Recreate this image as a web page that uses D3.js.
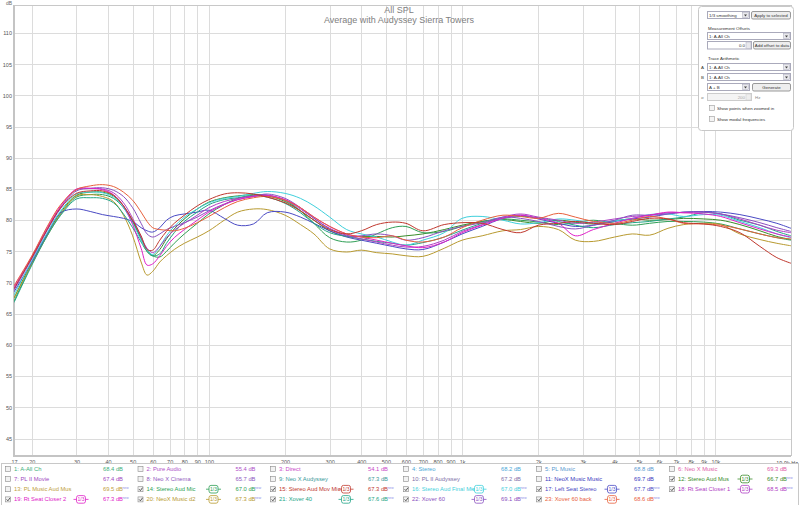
<!DOCTYPE html>
<html><head><meta charset="utf-8">
<script src="https://cdn.jsdelivr.net/npm/d3@7"></script>
<style>
body{margin:0;background:#fff;}
svg{display:block;font-family:"Liberation Sans",Arial,sans-serif;}
</style>
</head><body>
<svg id="c" width="800" height="505"></svg>
<script>
// ---------- DATA ----------
const freqs = [17,20,23,26,30,34,38,42,46,50,54,57,60,64,68,73,80,90,100,115,130,150,170,200,230,260,300,350,400,460,530,600,700,850,1000,1200,1450,1700,2000,2400,2800,3300,4000,4700,5500,6500,7500,9000,10500,12500,15000,17500,19900];

const s12 = [67.5,73.3,77.8,81.3,84.0, 84.5,84.5,83.9,82.3,79.8, 77,75,74.3,75.3,77, 78.6,80.2,81.8,82.9,83.6, 83.9,84.1,83.9,83,81.5, 80,78.3,77.4,77.4,77.4, 77.3,77.5,77.8,78.5,79.2, 79.8,80.1,79.8,79.5,80, 79.7,79.4,79.9,80.2,80, 80.1,80.3,80.2,80,79.3, 78.3,77.4,76.9];
const s14 = [67,73,77.6,81,83.7, 84.1,84.1,83.5,82,79.8, 77.2,75.3,74.3,74.1,75, 76.3,77.8,79.5,81,82.5, 83.5,84,84,83.2,81.5, 79.5,77.2,76.5,76.8,77.8, 78.8,79,78,78.2,79, 79.8,80.2,80,79.7,79.3, 79.6,80,79.5,79.2,79.5, 79.8,79.8,79.7,79.4,78.6, 77.8,77.2,76.8];
const s15 = [69,74,78.5,82,84.3, 84.7,84.7,84,82.3,80, 77.5,75.3,75.2,76.8,78.2, 79.5,80.8,82.3,83.3,84.2, 84.4,84.2,83.7,82.8,81.5, 80,78.5,77.8,78.3,79.3, 79.7,79.5,78.3,79.3,79.6, 79.5,78.5,78,79.2,79.5, 79.8,79.5,79.3,79.8,80.3, 80.2,79.6,79.4,79,78, 75.8,74,73.1];
const s16 = [68,73.5,78,81.5,84.2, 84.5,84.4,83.7,82,79.5, 76.8,75.2,74.5,75.8,77.5, 79,80.5,81.8,82.8,83.5, 83.8,84.3,84.6,84.3,83.5, 82.3,80.5,78.5,77.8,77.3, 76.5,76,76.8,78,80.3, 80.6,80,79.4,79.6,80.2, 80,79.6,79.9,80.3,80.9, 81,80.6,80.9,80.8,79.8, 78.8,77.8,77.2];
const s17 = [68.5,73.3,77.8,81.2,81.8, 81.4,80.9,80.6,80.3,79.8, 78.8,78.3,78.1,78.8,80, 80.7,81,81.3,81.6,80.3, 79.2,79.4,81.2,81.3,80.5, 79.5,78.3,77.3,76.8,76.3, 75.8,75.4,75.3,76.5,77.8, 79,80.3,80.8,80.2,79.5, 79,79.2,79.8,80.2,80.5, 81,81.3,81.4,81.3,80.9, 80.2,79.5,78.7];
const s18 = [69,74,78.6,82.1,84.9, 85.1,85.0,84.4,82.8,80.3, 77.3,75.5,74.8,75.8,77.2, 78.4,79.5,80.8,82,83, 83.5,83.9,84,83.2,81.8, 80.3,78.7,77.6,77,76.5, 76,75.7,75.8,76.8,78.2, 79.3,80.5,81,80.5,80, 79.5,79.7,80.2,80.6,80.8, 81.2,81.2,81.3,81,80.2, 79.2,78.4,78];
const s19 = [69.3,74.2,78.8,82.3,85.0, 85.1,84.9,84.1,82.3,79.3, 75.5,72.8,73,74.3,75.8, 77.2,78.5,80,81.3,82.5, 83.3,83.8,84,83.3,82, 80.5,79,77.8,77.3,76.8, 76.3,75.9,75.6,76.5,78, 79.2,80.3,80.8,80.3,79.5, 77.5,78.5,79.5,80.3,80.8, 81.3,81.2,81,80.6,79.6, 78.6,77.8,77.3];
const s20 = [67.5,73,77.5,81,83.9, 84.1,83.8,83,80.8,77.5, 73.3,71.2,71.8,73.3,74.3, 75.3,76.3,77.3,78.3,80, 81.3,81.8,81.7,80.8,79.3, 77.8,75.4,74.9,75.2,74.8, 74.6,74.3,74.2,75.5,76.8, 77.5,78.3,78.5,79,78.5, 76.8,76.6,77.3,77.8,77.6, 78.7,79.3,79.5,79.3,77.8, 76.9,76.3,75.9];
const s21 = [66.8,72.8,77.5,80.8,83.4, 83.6,83.5,82.8,81,78.8, 76.5,75,74.3,74.6,76.3, 78,79.8,81.3,82.5,83.3, 83.6,83.9,83.7,82.7,81.2, 79.5,78,77.4,77,76.6, 76.3,76,76.4,77.3,78.4, 79.5,80.3,80.6,80.4,79.8, 79.2,78.8,79.3,79.6,79.8, 80.2,80.5,81.2,81,80, 79.2,78.2,77.5];
const s22 = [68.8,73.8,78.4,81.9,84.7, 85.1,85.2,84.8,83.8,82, 79.5,77.8,77.3,77.8,78.5, 79,79.6,80.5,81.5,82.6, 83.3,83.8,84.2,83.5,82, 80.3,78.6,77.5,77.5,77.8, 77.5,76.8,77.2,78.3,79, 79.6,80.5,80.3,79.8,79, 78.6,79.2,80,80.8,80.8, 81,81.3,81.3,81,80.4, 79.6,78.8,78.2];
const s23 = [69.5,74.3,79,82.5,84.9, 85.5,85.7,85.4,84.5,83.2, 81.3,79.8,78.8,78.5,78.4, 78.3,78.7,79.6,80.6,82, 83,83.6,83.8,83.2,82, 80.5,79,77.8,77.3,77.2, 77.5,76.8,76.5,77.3,78.8, 80,80.8,80.6,80.3,81.1, 80.5,79.8,79.5,80,80.6, 80.2,79.5,79.4,79.2,78.6, 77.8,77.2,77];

const legendNames = ["1: A-All Ch","2: Pure Audio","3: Direct","4: Stereo","5: PL Music","6: Neo X Music",
  "7: PL II Movie","8: Neo X Cinema","9: Neo X Audyssey","10: PL II Audyssey","11: NeoX Music Music","12: Stereo Aud Mus",
  "13: PL Music Aud Mus","14: Stereo Aud Mic","15: Stereo Aud Mov Mic","16: Stereo Aud Final Mic","17: Left Seat Stereo","18: Rt Seat Closer 1",
  "19: Rt Seat Closer 2","20: NeoX Music d2","21: Xover 40","22: Xover 60","23: Xover 60 back"];
const legendValues = ["68.4","55.4","54.1","68.2","68.8","69.3","67.4","65.7","67.3","67.2","69.7","66.7",
  "69.5","67.0","67.3","67.0","67.7","68.5","67.3","67.3","67.6","69.1","68.6"];
const legendColors = ["#3cb07a","#b050c8","#c848c8","#48a8d8","#5a9ad0","#e060a8",
  "#a048c0","#9058c0","#3a9a9a","#8070a8","#3a3ac0","#3a8c2a",
  "#c0a040","#2f9f55","#c0382e","#3fd0dc","#4a4ac4","#b040c4",
  "#e020c8","#b89a30","#22a586","#8a50c0","#e8603c"];
const legendChecked = [0,0,0,0,0,0, 0,0,0,0,0,1, 0,1,1,1,1,1, 1,1,1,1,1];
const legendNew = [0,0,0,0,0,0, 0,0,0,0,0,1, 1,1,1,1,1,1, 1,1,1,1,1];

const yTicks = [45,50,55,60,65,70,75,80,85,90,95,100,105,110];
const gridFreqs = [20,30,40,50,60,70,80,90,100,200,300,400,500,600,700,800,900,1000,2000,3000,4000,5000,6000,7000,8000,9000,10000];
const xTickVals = [17,20,30,40,50,60,70,80,90,100,200,300,400,500,600,700,800,900,1000,2000,3000,4000,5000,6000,7000,8000,9000,10000];
const xTickText = ["17","20","30","40","50","60","70","80","90","100","200","300","400","500","600","700","800","900","1k","2k","3k","4k","5k","6k","7k","8k","9k","10k"];
const xEndLabel = "19.9k Hz";

const series = [
  {id:12, v:s12}, {id:14, v:s14}, {id:20, v:s20}, {id:17, v:s17}, {id:21, v:s21},
  {id:16, v:s16}, {id:18, v:s18}, {id:22, v:s22}, {id:19, v:s19}, {id:23, v:s23}, {id:15, v:s15}
];

// ---------- CHART ----------
const svg = d3.select("#c");
const L = 14, R = 791, T = 5, B = 456;
const x = d3.scaleLog().domain([17,19900]).range([L,R]);
const y = d3.scaleLinear().domain([42.2,114.5]).range([B,T]);

svg.append("rect").attr("x",0).attr("y",0).attr("width",800).attr("height",505).attr("fill","#fff");

// grid
const gx = svg.append("g").attr("transform",`translate(0,${B})`)
  .call(d3.axisBottom(x).tickValues(gridFreqs).tickSize(-(B-T)).tickFormat(""));
gx.select(".domain").remove();
gx.selectAll("line").attr("stroke","#dcdcdc").attr("stroke-width",1).attr("shape-rendering","crispEdges");
const gy = svg.append("g").attr("transform",`translate(${L},0)`)
  .call(d3.axisLeft(y).tickValues(yTicks).tickSize(-(R-L)).tickFormat(""));
gy.select(".domain").remove();
gy.selectAll("line").attr("stroke","#dcdcdc").attr("stroke-width",1).attr("shape-rendering","crispEdges");

// frame
svg.append("line").attr("x1",L).attr("x2",R).attr("y1",T).attr("y2",T).attr("stroke","#c8c8c8").attr("shape-rendering","crispEdges");
svg.append("line").attr("x1",R).attr("x2",R).attr("y1",T).attr("y2",B).attr("stroke","#c8c8c8").attr("shape-rendering","crispEdges");
svg.append("line").attr("x1",L).attr("x2",L).attr("y1",T).attr("y2",B+1).attr("stroke","#c4c4c4").attr("stroke-width",2);
svg.append("line").attr("x1",L-1).attr("x2",R).attr("y1",B).attr("y2",B).attr("stroke","#c4c4c4").attr("stroke-width",2);

// axis labels
const ax = svg.append("g").attr("transform",`translate(0,${B})`)
  .call(d3.axisBottom(x).tickValues(xTickVals).tickSize(0).tickPadding(4).tickFormat((d,i)=>xTickText[i]));
ax.select(".domain").remove();
ax.selectAll("text").attr("fill","#555").attr("font-size","5.5px").attr("font-family","Liberation Sans, Arial, sans-serif");
svg.append("text").attr("x",798).attr("y",B+8.5).attr("text-anchor","end").attr("fill","#555").attr("font-size","5.5px").text(xEndLabel);

const ay = svg.append("g").attr("transform",`translate(${L},0)`)
  .call(d3.axisLeft(y).tickValues(yTicks).tickSize(0).tickPadding(2).tickFormat(d=>d));
ay.select(".domain").remove();
ay.selectAll("text").attr("fill","#555").attr("font-size","5.5px").attr("font-family","Liberation Sans, Arial, sans-serif");
svg.append("text").attr("x",9).attr("y",5).attr("font-size","5px").attr("fill","#666").attr("text-anchor","middle").text("dB");

// title
svg.append("text").attr("x",399).attr("y",13).attr("text-anchor","middle").attr("font-size","9px").attr("fill","#808080").text("All SPL");
svg.append("text").attr("x",399).attr("y",23).attr("text-anchor","middle").attr("font-size","9px").attr("fill","#808080").text("Average with Audyssey Sierra Towers");

// curves
svg.append("clipPath").attr("id","clip").append("rect").attr("x",L).attr("y",T).attr("width",R-L).attr("height",B-T);
const line = d3.line().x((d,i)=>x(freqs[i])).y(d=>y(d)).curve(d3.curveCatmullRom.alpha(0.5));
svg.append("g").attr("clip-path","url(#clip)").selectAll("path").data(series).join("path")
  .attr("d",d=>line(d.v)).attr("fill","none").attr("stroke",d=>legendColors[d.id-1]).attr("stroke-width",1);

// ---------- RIGHT PANEL ----------
const P = svg.append("g").attr("font-size","4.4px").attr("fill","#333");
P.append("rect").attr("x",698.5).attr("y",6.5).attr("width",95).attr("height",124).attr("rx",3).attr("fill","#fff").attr("stroke","#c8c8c8");
function dropdown(x0,y0,w,label){
  P.append("rect").attr("x",x0+.5).attr("y",y0+.5).attr("width",w).attr("height",7).attr("fill","#fff").attr("stroke","#aab");
  P.append("rect").attr("x",x0+w-6.5).attr("y",y0+1.5).attr("width",6).attr("height",5).attr("fill","#e8e8ec").attr("stroke","#aab").attr("stroke-width",0.5);
  P.append("path").attr("d",`M${x0+w-5},${y0+3.5}h3l-1.5,2z`).attr("fill","#444");
  P.append("text").attr("x",x0+2).attr("y",y0+5.8).text(label);
}
function button(x0,y0,w,label){
  P.append("rect").attr("x",x0+.5).attr("y",y0+.5).attr("width",w).attr("height",7.5).attr("rx",1.5).attr("fill","#eeeeee").attr("stroke","#999");
  P.append("text").attr("x",x0+w/2+.5).attr("y",y0+5.9).attr("text-anchor","middle").text(label);
}
dropdown(707,11,42,"1/3 smoothing");
button(751,11,39,"Apply to selected");
P.append("text").attr("x",708).attr("y",29.5).text("Measurement Offsets");
dropdown(707,32,83,"1: A-All Ch");
P.append("rect").attr("x",707.5).attr("y",41.5).attr("width",44).attr("height",7.5).attr("fill","#fff").attr("stroke","#aab");
P.append("text").attr("x",745).attr("y",47.2).attr("text-anchor","end").text("0.0");
P.append("rect").attr("x",746).attr("y",42).attr("width",5).attr("height",6.5).attr("fill","#e8e8ec").attr("stroke","#aab").attr("stroke-width",0.5);
button(753,41,37,"Add offset to data");
P.append("text").attr("x",708).attr("y",59.5).text("Trace Arithmetic");
P.append("text").attr("x",701).attr("y",68.8).text("A");
dropdown(707,63,83,"1: A-All Ch");
P.append("text").attr("x",701).attr("y",78.8).text("B");
dropdown(707,73,83,"1: A-All Ch");
dropdown(707,83,42,"A + B");
button(752,83,38,"Generate");
P.append("text").attr("x",701).attr("y",99.3).attr("fill","#888").text("ø");
P.append("rect").attr("x",707.5).attr("y",93.5).attr("width",44).attr("height",7).attr("fill","#f4f4f4").attr("stroke","#ccc");
P.append("text").attr("x",745).attr("y",99).attr("text-anchor","end").attr("fill","#aaa").text("200");
P.append("rect").attr("x",746).attr("y",94).attr("width",5).attr("height",6).attr("fill","#eee").attr("stroke","#ccc").attr("stroke-width",0.5);
P.append("text").attr("x",755).attr("y",99).attr("fill","#888").text("Hz");
[[110,"Show points when zoomed in"],[121,"Show modal frequencies"]].forEach(([yy,t])=>{
  P.append("rect").attr("x",709.5).attr("y",yy-4.5).attr("width",5).attr("height",5).attr("fill","#f4f4f4").attr("stroke","#999").attr("stroke-width",0.6);
  P.append("text").attr("x",717).attr("y",yy).text(t);
});

// ---------- LEGEND ----------
const LG = svg.append("g").attr("font-size","5.8px");
LG.append("rect").attr("x",1.5).attr("y",463.5).attr("width",797).attr("height",45).attr("fill","#fff").attr("stroke","#c8c8c8");
const colX = [5,137.5,270,403,536,669];
const rowY = [468.8,479,489.2,499.4];
legendNames.forEach((name,i)=>{
  const cx = colX[i%6], cy = rowY[Math.floor(i/6)];
  const g = LG.append("g");
  g.append("rect").attr("x",cx+.5).attr("y",cy-2.5).attr("width",5).attr("height",5).attr("fill","#f2f2f2").attr("stroke","#8a8a8a").attr("stroke-width",0.6);
  if(legendChecked[i]) g.append("path").attr("d",`M${cx+1.6},${cy}l1.3,1.4l2.2,-3`).attr("fill","none").attr("stroke","#333").attr("stroke-width",0.8);
  g.append("text").attr("x",cx+9).attr("y",cy+2).attr("fill",legendColors[i]).text(name);
  g.append("text").attr("x",cx+98).attr("y",cy+2).attr("fill",legendColors[i]).text(legendValues[i]+" dB");
  if(legendNew[i]) g.append("text").attr("x",cx+98+19.5).attr("y",cy-0.3).attr("font-size","3.3px").attr("fill","#8c8ce6").text("new");
  if(legendChecked[i]){
    const bx = cx+68.5, c = legendColors[i];
    g.append("line").attr("x1",bx).attr("x2",bx+3).attr("y1",cy).attr("y2",cy).attr("stroke",c).attr("stroke-width",0.8);
    g.append("line").attr("x1",bx+12).attr("x2",bx+15).attr("y1",cy).attr("y2",cy).attr("stroke",c).attr("stroke-width",0.8);
    g.append("rect").attr("x",bx+3).attr("y",cy-3.8).attr("width",9).attr("height",7.6).attr("rx",2).attr("fill","#fff").attr("stroke",c).attr("stroke-width",0.8);
    g.append("text").attr("x",bx+7.5).attr("y",cy+2).attr("text-anchor","middle").attr("font-size","5px").attr("fill",c).text("1/3");
  }
});
</script>
</body></html>
